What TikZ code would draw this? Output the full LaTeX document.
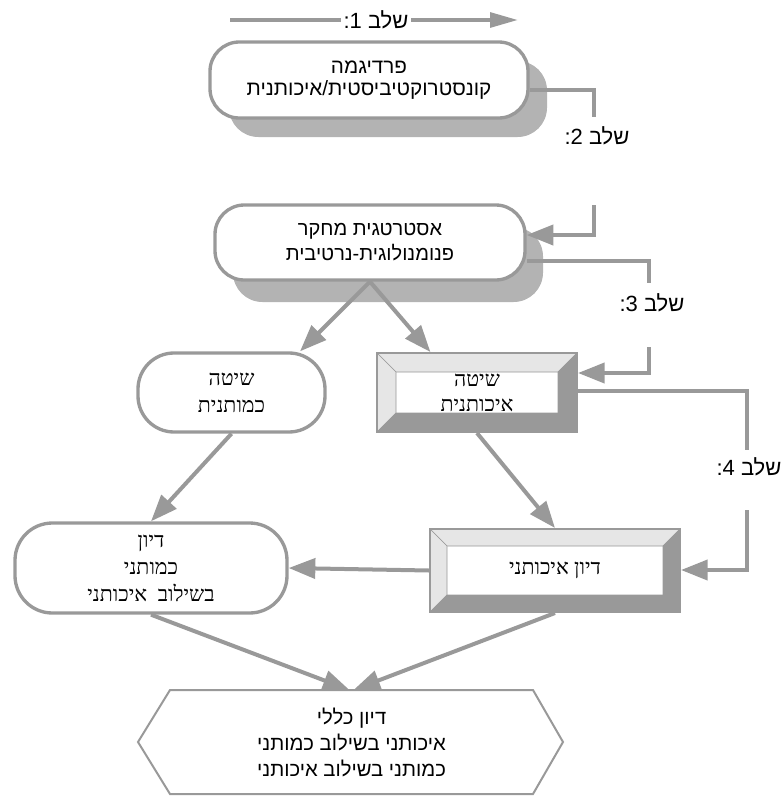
\documentclass[tikz,border=0pt]{standalone}
\usepackage{fontspec}
\setmainfont{Liberation Serif}
\newfontfamily\hebsans[Script=Hebrew]{Liberation Sans}
\newfontfamily\hebserif[Script=Hebrew]{Liberation Serif}
\usetikzlibrary{arrows.meta,shadows}
\TeXXeTstate=1
\newcommand{\hebr}[1]{\beginR#1\endR}

\definecolor{edge}{HTML}{999999}
\definecolor{shade}{HTML}{B3B3B3}
\definecolor{bevlight}{HTML}{E6E6E6}
\definecolor{bevdark}{HTML}{999999}

% bevelled frame inside a rectangular node; #1 = band width
\newcommand{\bevelfill}[1]{%
  \fill[bevlight,draw=edge,line width=0.4pt]
    (path picture bounding box.north west) -- (path picture bounding box.north east)
    -- ([shift={(-#1,-#1)}]path picture bounding box.north east)
    -- ([shift={(#1,-#1)}]path picture bounding box.north west) -- cycle;
  \fill[bevlight,draw=edge,line width=0.4pt]
    (path picture bounding box.north west) -- ([shift={(#1,-#1)}]path picture bounding box.north west)
    -- ([shift={(#1,#1)}]path picture bounding box.south west)
    -- (path picture bounding box.south west) -- cycle;
  \fill[bevdark,draw=edge,line width=0.4pt]
    (path picture bounding box.north east) -- (path picture bounding box.south east)
    -- ([shift={(-#1,#1)}]path picture bounding box.south east)
    -- ([shift={(-#1,-#1)}]path picture bounding box.north east) -- cycle;
  \fill[bevdark,draw=edge,line width=0.4pt]
    (path picture bounding box.south west) -- (path picture bounding box.south east)
    -- ([shift={(-#1,#1)}]path picture bounding box.south east)
    -- ([shift={(#1,#1)}]path picture bounding box.south west) -- cycle;
}

\tikzset{
  rbox/.style={rectangle, rounded corners=#1, draw=edge, line width=2.5pt,
    fill=white, align=center, inner sep=0pt},
  rbox/.default=22pt,
  bevbox/.style={rectangle, draw=edge, line width=1.5pt, fill=white,
    align=center, inner sep=0pt, path picture={\bevelfill{#1}}},
  link/.style={draw=edge, line width=3pt},
  arr/.style={link, -{Triangle[length=20pt,width=15pt]}},
  steplabel/.style={font=\hebsans\fontsize{16.5pt}{19pt}\selectfont, inner sep=2pt},
}

\begin{document}
\begin{tikzpicture}[x=0.75pt,y=-0.75pt]
\useasboundingbox (0,0) rectangle (783,796);

% ---- boxes ----
\node[rbox, font=\hebsans\fontsize{15.5pt}{16pt}\selectfont,
      minimum width=238.5pt, minimum height=57pt,
      drop shadow={shadow xshift=14.25pt, shadow yshift=-14.25pt, fill=shade, opacity=1}]
  (top) at (369,80) {\hebr{פרדיגמה}\\\hebr{קונסטרוקטיביסטית/איכותנית}};

\node[rbox, font=\hebsans\fontsize{15pt}{18.75pt}\selectfont,
      minimum width=232.5pt, minimum height=56.25pt,
      drop shadow={shadow xshift=13.5pt, shadow yshift=-16.5pt, fill=shade, opacity=1}]
  (box2) at (370,242.5) {\hebr{אסטרטגית מחקר}\\\hebr{פנומנולוגית-נרטיבית}};

\node[rbox=27pt, font=\hebserif\fontsize{16pt}{20.25pt}\selectfont,
      minimum width=140.25pt, minimum height=59.25pt]
  (quant) at (231.5,392.5) {\hebr{שיטה}\\\hebr{כמותנית}};

\node[bevbox=14.25pt, font=\hebserif\fontsize{16pt}{18.75pt}\selectfont,
      minimum width=150pt, minimum height=59.25pt]
  (qual) at (477,392.5) {\hebr{שיטה}\\\hebr{איכותנית}};

\node[rbox=28pt, font=\hebserif\fontsize{16pt}{20.25pt}\selectfont,
      minimum width=204pt, minimum height=67.5pt]
  (discQ) at (151,568) {\hebr{דיון}\\\hebr{כמותני}\\\hebr{בשילוב\ \ איכותני}};

\node[bevbox=12.75pt, font=\hebserif\fontsize{16pt}{20.25pt}\selectfont,
      minimum width=187.5pt, minimum height=62.25pt]
  (discL) at (555,570.5) {\hebr{דיון איכותני}};

\node[align=center, inner sep=0pt, outer sep=0pt,
      font=\hebsans\fontsize{15.2pt}{19.5pt}\selectfont,
      minimum width=272.25pt, minimum height=78pt]
  (hex) at (351.5,742) {\hebr{דיון כללי}\\\hebr{איכותני בשילוב כמותני}\\\hebr{כמותני בשילוב איכותני}};
\draw[edge, line width=1.5pt, line join=miter]
  (hex.north west) -- (hex.north east) -- ([xshift=22.5pt]hex.east)
  -- (hex.south east) -- (hex.south west) -- ([xshift=-24pt]hex.west) -- cycle;

% ---- step 1 ----
\node[steplabel] (s1) at (376,20) {\hebr{שלב 1:}};
\coordinate (s1a) at (230,20);
\coordinate (s1b) at (518,20);
\draw[link] (s1a) -- (s1.west);
\draw[link, -{Triangle[length=21pt,width=11pt]}] (s1.east) -- (s1b);

% ---- step 2 ----
\coordinate (c2a) at (594,90);
\coordinate (c2b) at (594,117);
\coordinate (c2c) at (594,205);
\coordinate (c2d) at (594,235);
\draw[link] (top.east |- c2a) -- (c2a) -- (c2b);
\draw[arr] (c2c) -- (c2d) -- (box2.east |- c2d);
\node[steplabel] (s2) at (597,136) {\hebr{שלב 2:}};

% ---- step 3 ----
\coordinate (c3a) at (649,261);
\coordinate (c3b) at (649,283);
\coordinate (c3c) at (649,347);
\coordinate (c3d) at (649,373);
\draw[link] (box2.east |- c3a) -- (c3a) -- (c3b);
\draw[arr] (c3c) -- (c3d) -- (qual.east |- c3d);
\node[steplabel] (s3) at (652,303) {\hebr{שלב 3:}};

% ---- step 4 ----
\coordinate (c4a) at (747,391);
\coordinate (c4b) at (747,450);
\coordinate (c4c) at (747,510);
\coordinate (c4d) at (747,570);
\draw[link] (qual.east |- c4a) -- (c4a) -- (c4b);
\draw[arr] (c4c) -- (c4d) -- (discL.east |- c4d);
\node[steplabel] (s4) at (749,467) {\hebr{שלב 4:}};

% ---- flow arrows ----
\draw[arr] (box2.south) -- (quant.31);
\draw[arr] (box2.south) -- (qual.139);
\draw[arr] (quant.south) -- (discQ.north);
\draw[arr] (qual.south) -- (discL.north);
\draw[arr] (discL.west) -- (discQ.east);
\draw[arr] (discQ.south) -- ([xshift=-1.5pt]hex.north);
\draw[arr] (discL.south) -- ([xshift=1.5pt]hex.north);
\end{tikzpicture}
\end{document}
